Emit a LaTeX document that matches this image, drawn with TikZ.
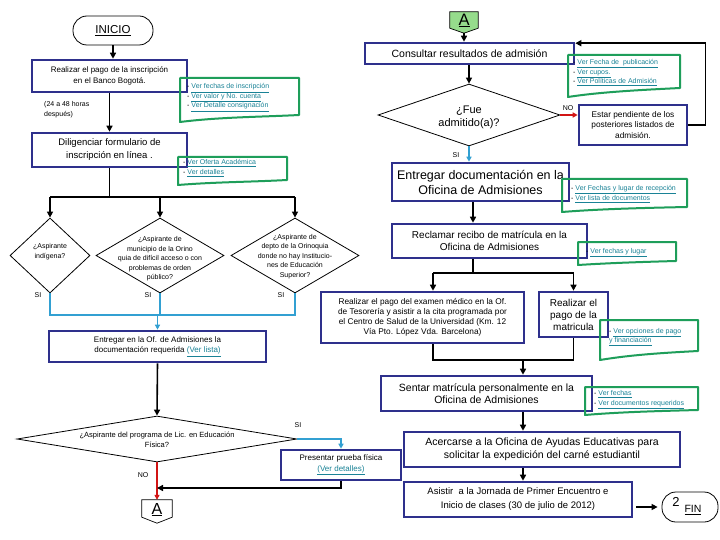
\documentclass[tikz,border=0pt]{standalone}
\usepackage{fontspec}
\setmainfont{Liberation Sans}
\usetikzlibrary{shapes.geometric,arrows.meta,calc}
\definecolor{navy}{RGB}{46,48,140}
\definecolor{notegreen}{RGB}{30,158,90}
\definecolor{linkc}{RGB}{25,130,150}
\definecolor{tealln}{RGB}{50,160,210}
\definecolor{redln}{RGB}{210,20,20}
\definecolor{agreen}{RGB}{150,220,140}
\newcommand\fsz[2]{\fontsize{#1}{#2}\selectfont}
\newcommand\lk[1]{\textcolor{linkc}{\underline{#1}}}
\tikzset{
 box/.style={draw=navy, line width=2.6pt, fill=white, align=center, inner sep=1pt},
 dia/.style={draw, diamond, line width=0.8pt, inner sep=0pt, fill=white},
 dtxt/.style={align=center, inner sep=0pt, font=\fsz{7}{9.5}},
 lbl/.style={inner sep=0pt, font=\fsz{7}{8}},
 notetxt/.style={inner sep=0pt, align=left, anchor=west, font=\fsz{7}{9.5}},
 notebd/.style={draw=notegreen, line width=2pt, line join=round},
 arr/.style={line width=1.6pt, -{Triangle[length=6pt,width=6pt]}},
 ln/.style={line width=1.1pt},
 tln/.style={draw=tealln, line width=1.4pt},
 tarr/.style={tln, -{Triangle[length=5pt,width=5pt]}},
 rarr/.style={draw=redln, line width=1.6pt, -{Triangle[length=5pt,width=5pt]}},
 conn/.style={minimum width=#1, inner sep=0pt},
}
\begin{document}
\begin{tikzpicture}[x=1pt,y=-1pt]
\useasboundingbox[fill=white] (0,0) rectangle (720,540);

% ---------- left column ----------
\node[draw, line width=0.8pt, rounded corners=14pt, minimum width=80pt, minimum height=29pt, font=\fsz{11.5}{13}] (inicio) at (113,30.5) {\underline{INICIO}};
\node[box, minimum width=155pt, minimum height=32pt, font=\fsz{8}{11}] (b1) at (109.5,76) {Realizar el pago de la inscripción\\en el Banco Bogotá.};
\node[box, minimum width=155pt, minimum height=34pt, font=\fsz{9.5}{13}] (b2) at (109.5,150) {Diligenciar formulario de\\inscripción en línea .};
\node[inner sep=0pt, anchor=west, align=left, font=\fsz{7}{10}] (horas) at (44,110) {(24 a 48 horas\\después)};

\node[dia, minimum width=80pt, minimum height=75pt] (d1) at (50,255.5) {};
\node[dtxt] (d1t) at (50,251.5) {¿Aspirante\\indígena?};
\node[dia, minimum width=128pt, minimum height=75pt] (d2) at (160,255.5) {};
\node[dtxt] (d2t) at (160,259) {¿Aspirante de\\municipio de la Orino\\quia de difícil acceso o con\\problemas de orden\\público?};
\node[dia, minimum width=128pt, minimum height=75pt] (d3) at (295,255.5) {};
\node[dtxt] (d3t) at (295,256.5) {¿Aspirante de\\depto de la Orinoquia\\donde no hay Institucio-\\nes de Educación\\Superior?};
\node[lbl] (si1) at (38,295) {SI};
\node[lbl] (si2) at (148,295) {SI};
\node[lbl] (si3) at (281,295) {SI};

\node[box, minimum width=217pt, minimum height=31pt, font=\fsz{8}{10.5}] (b3) at (157.5,346.5) {Entregar en la Of. de Admisiones la\\documentación requerida \lk{(Ver lista)}};
\node[dia, minimum width=280pt, minimum height=46pt] (d4) at (157,439) {};
\node[dtxt, font=\fsz{7.5}{10}] (d4t) at (157,440) {¿Aspirante del programa de Lic. en Educación\\Física?};
\node[lbl] (si4) at (298,425) {SI};
\node[lbl] (no4) at (143,475) {NO};
\node[box, minimum width=120pt, minimum height=30pt, font=\fsz{8}{11}] (b4) at (341,465) {Presentar prueba física\\\lk{(Ver detalles)}};

\node[conn=30pt, minimum height=23pt] (Abot) at (157,511.5) {};
\draw[line width=0.7pt, fill=white] (Abot.north west) -- (Abot.north east) -- ([yshift=6pt]Abot.south east) -- (Abot.south) -- ([yshift=6pt]Abot.south west) -- cycle;
\node[inner sep=0pt, font=\fsz{16}{16}] (Abott) at ([yshift=2pt]Abot.center) {\underline{A}};

% ---------- right column ----------
\node[conn=28pt, minimum height=21pt] (Atop) at (464,22.5) {};
\shadedraw[top color=agreen, middle color=green!8!white, bottom color=agreen, line width=0.7pt] (Atop.north west) -- (Atop.north east) -- ([yshift=5pt]Atop.south east) -- (Atop.south) -- ([yshift=5pt]Atop.south west) -- cycle;
\node[inner sep=0pt, font=\fsz{16.5}{16.5}] (Atopt) at ([yshift=2pt]Atop.center) {\underline{A}};

\node[box, minimum width=209pt, minimum height=21pt, font=\fsz{10.5}{12}] (consult) at (469.5,53.5) {Consultar resultados de admisión};
\node[dia, minimum width=182pt, minimum height=62pt] (d5) at (469,115) {};
\node[dtxt, font=\fsz{11}{13}] (d5t) at (469,117) {¿Fue\\admitido(a)?};
\node[lbl] (no5) at (568,108) {NO};
\node[lbl] (si5) at (456,155) {SI};
\node[box, minimum width=108pt, minimum height=40pt, font=\fsz{8.3}{10.5}] (pend) at (633,125) {Estar pendiente de los\\posteriores listados de\\admisión.};
\node[box, minimum width=177pt, minimum height=38pt, font=\fsz{12.5}{15}] (entdoc) at (480.5,182) {Entregar documentación en la\\Oficina de Admisiones};
\node[box, minimum width=195pt, minimum height=34pt, font=\fsz{10}{11.5}] (reclam) at (489.5,241) {Reclamar recibo de matrícula en la\\Oficina de Admisiones};
\node[box, minimum width=203pt, minimum height=51pt, font=\fsz{8.3}{10}] (exam) at (422.5,317.5) {Realizar el pago del examen médico en la Of.\\de Tesorería y asistir a la cita programada por\\el Centro de Salud de la Universidad (Km. 12\\Vía Pto. López Vda. Barcelona)};
\node[box, minimum width=69pt, minimum height=45pt, font=\fsz{10}{12}] (matric) at (573.5,314.5) {Realizar el\\pago de la\\matricula};
\node[box, minimum width=211pt, minimum height=35pt, font=\fsz{10.5}{12.5}] (sentar) at (486.5,393.5) {Sentar matrícula personalmente en la\\Oficina de Admisiones};
\node[box, minimum width=276pt, minimum height=35pt, font=\fsz{10.5}{13.5}] (acerc) at (542,449.5) {Acercarse a la Oficina de Ayudas Educativas para\\solicitar la expedición del carné estudiantil};
\node[box, minimum width=228pt, minimum height=35pt, font=\fsz{9.5}{14}] (asistir) at (518,499.5) {Asistir \ a la Jornada de Primer Encuentro e\\Inicio de clases (30 de julio de 2012)};
\node[draw, line width=0.8pt, rounded corners=14pt, minimum width=56pt, minimum height=30pt] (fin) at (690,507) {};
\node[inner sep=0pt, font=\fsz{13}{13}] (fin2) at (676,502) {2};
\node[inner sep=0pt, font=\fsz{10.5}{12}] (fint) at (693,510) {\underline{FIN}};

% ---------- connectors ----------
\coordinate (bus) at (109.5,197);
\coordinate (bus2) at (157.5,315);
\coordinate (xE) at (433,273);
\coordinate (bus3) at (473,273);
\coordinate (bus4) at (523,360);
\coordinate (jn) at (157,488);

\draw[arr] (inicio.south) -- (inicio.south |- b1.north);
\draw[arr] (b1.south) -- (b2.north);
\draw[ln] (b2.south) -- (bus);
\draw[ln] (d1.north |- bus) -- (d3.north |- bus);
\draw[arr] (d1.north |- bus) -- (d1.north);
\draw[arr] (d2.north |- bus) -- (d2.north);
\draw[arr] (d3.north |- bus) -- (d3.north);
\draw[tln] (d1.south) -- (d1.south |- bus2) -- (d3.south |- bus2) -- (d3.south);
\draw[tln] (d2.south) -- (d2.south |- bus2);
\draw[tarr] (bus2) -- (b3.north);
\draw[arr] (b3.south) -- (d4.north);
\draw[tarr] (d4.east) -| (b4.north);
\draw[rarr] (d4.south) -- (Abot.north);
\draw[arr] (b4.south) |- (jn);

\draw[arr] (Atop.south) -- (Atop.south |- consult.north);
\draw[arr] (d5.north |- consult.south) -- (d5.north);
\draw[rarr] (d5.east) -- (d5.east -| pend.west);
\draw[arr] (pend.east) -- ++(17,0) |- ([yshift=-1.5pt]consult.north east);
\draw[tarr] (d5.south) -- (d5.south |- entdoc.north);
\draw[arr] (bus3 |- entdoc.south) -- (bus3 |- reclam.north);
\draw[ln] (bus3 |- reclam.south) -- (bus3);
\draw[ln] (xE) -- (matric.north |- xE);
\draw[arr] (xE) -- (xE |- exam.north);
\draw[arr] (matric.north |- xE) -- (matric.north);
\draw[ln] (xE |- exam.south) -- (xE |- bus4) -- (matric.south |- bus4) -- (matric.south);
\draw[arr] (bus4) -- (bus4 |- sentar.north);
\draw[arr] (bus4 |- sentar.south) -- (bus4 |- acerc.north);
\draw[arr] (bus4 |- acerc.south) -- (bus4 |- asistir.north);
\draw[arr] ($(asistir.east |- fin.west)+(3,0)$) -- ($(fin.west)+(-4,0)$);

% ---------- notes ----------
\draw[notebd] (180,78) -- (299,78) -- (299,115) .. controls (260,117) and (220,117) .. (180,122) -- cycle;
\node[notetxt] (n1) at (187,97.5) {- \lk{Ver fechas de inscripción}\\- \lk{Ver valor y No. cuenta}\\- \lk{Ver Detalle consignación}};
\draw[notebd] (178,157) -- (287,157) -- (287,180) .. controls (250,182) and (215,182) .. (178,185) -- cycle;
\node[notetxt] (n2) at (183,168) {- \lk{Ver Oferta Académica}\\- \lk{Ver detalles}};
\draw[notebd] (568,55) -- (680,55) -- (680,88) .. controls (640,90) and (600,92) .. (568,97) -- cycle;
\node[notetxt] (n3) at (573,72.5) {- \lk{Ver Fecha de \ publicación}\\- \lk{Ver cupos.}\\- \lk{Ver Políticas de Admisión}};
\draw[notebd] (562,179) -- (687,179) -- (687,207) .. controls (640,208) and (600,209) .. (562,212) -- cycle;
\node[notetxt] (n4) at (571,194) {- \lk{Ver Fechas y lugar de recepción}\\- \lk{Ver lista de documentos}};
\draw[notebd] (578,242) -- (676,242) -- (676,261) .. controls (640,262) and (610,263) .. (578,265) -- cycle;
\node[notetxt] (n5) at (586,253) {- \lk{Ver fechas y lugar}};
\draw[notebd] (600,320) -- (698,320) -- (698,351) .. controls (660,353) and (630,355) .. (600,360) -- cycle;
\node[notetxt] (n6) at (609,337) {- \lk{Ver opciones de pago}\\\lk{y financiación}};
\draw[notebd] (585,387) -- (698,387) -- (698,410) .. controls (660,411) and (620,412) .. (585,415) -- cycle;
\node[notetxt] (n7) at (594,399.5) {- \lk{Ver fechas}\\- \lk{Ver documentos requeridos}};
\end{tikzpicture}
\end{document}
